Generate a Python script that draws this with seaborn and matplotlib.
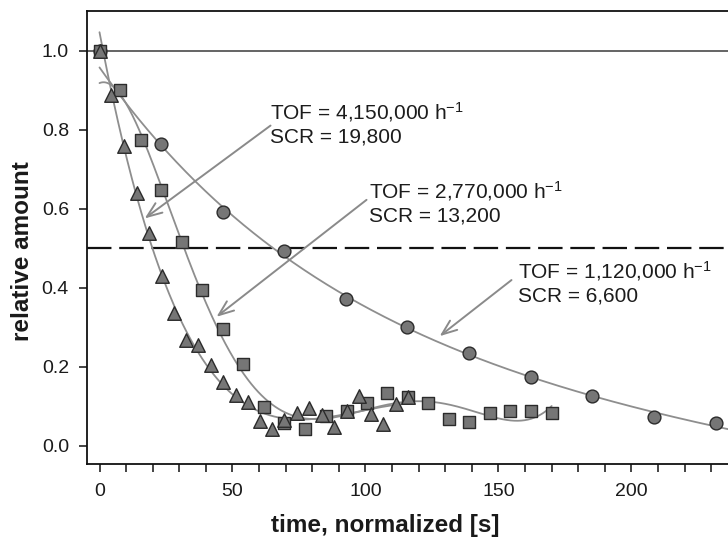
import numpy as np
import pandas as pd
import seaborn as sns
import matplotlib.pyplot as plt

# ---- data ----
tri_t = [0, 4.4, 9.3, 14.2, 18.5, 23.4, 28.0, 32.5, 37.1, 41.8, 46.4, 51.2, 55.7, 60.3, 65.0,
         69.5, 74.2, 78.8, 83.5, 88.0, 92.9, 97.4, 102.0, 106.7, 111.3, 115.9]
tri_y = [1.0, 0.889, 0.760, 0.640, 0.538, 0.430, 0.336, 0.268, 0.256, 0.206, 0.161, 0.129, 0.112,
         0.063, 0.043, 0.066, 0.083, 0.095, 0.078, 0.049, 0.089, 0.127, 0.080, 0.055, 0.106, 0.125]

sq_t = [0, 7.7, 15.6, 23.2, 31.0, 38.6, 46.3, 54.1, 61.7, 69.4, 77.3, 85.1, 92.9, 100.6, 108.2,
        115.9, 123.6, 131.4, 139.0, 146.8, 154.4, 162.2, 170.0]
sq_y = [1.0, 0.900, 0.775, 0.648, 0.517, 0.394, 0.295, 0.207, 0.099, 0.057, 0.043, 0.077, 0.089,
        0.108, 0.135, 0.125, 0.108, 0.068, 0.060, 0.083, 0.089, 0.089, 0.083]

circ_t = [0, 23.2, 46.3, 69.4, 92.6, 115.7, 139.0, 162.1, 185.3, 208.5, 231.7]
circ_y = [1.0, 0.765, 0.592, 0.494, 0.372, 0.301, 0.236, 0.174, 0.127, 0.074, 0.057]

labels = ["TOF = 4,150,000 h$^{-1}$\nSCR = 19,800",
          "TOF = 2,770,000 h$^{-1}$\nSCR = 13,200",
          "TOF = 1,120,000 h$^{-1}$\nSCR = 6,600"]

x_ticks = [0, 50, 100, 150, 200]
y_ticks = [0.0, 0.2, 0.4, 0.6, 0.8, 1.0]

# ---- style ----
sns.set_theme(style="ticks")
plt.rcParams['font.family'] = ['Liberation Sans', 'DejaVu Sans']
plt.rcParams['mathtext.fontset'] = 'custom'
plt.rcParams['mathtext.rm'] = 'Liberation Sans'
plt.rcParams['mathtext.it'] = 'Liberation Sans'

fig = plt.figure(figsize=(7.28, 5.38), dpi=100)
ax = fig.add_axes([87 / 728, 74 / 538, 1 - 87 / 728, 453 / 538])


def fit_curve(t, y, poly_deg, t_end):
    """Least-squares fit: exponential decay + low-order polynomial (tau by grid search)."""
    t = np.asarray(t, float)
    y = np.asarray(y, float)
    m = t > 0
    t, y = t[m], y[m]
    scale = t.max()

    def basis(tt, tau):
        cols = [np.exp(-tt / tau)] + [(tt / scale) ** k for k in range(poly_deg + 1)]
        return np.column_stack(cols)

    best = None
    for tau in np.linspace(8, 120, 225):
        A = basis(t, tau)
        coef, *_ = np.linalg.lstsq(A, y, rcond=None)
        err = np.sum((A @ coef - y) ** 2)
        if best is None or err < best[0]:
            best = (err, tau, coef)
    _, tau, coef = best
    tt = np.linspace(0, t_end, 400)
    return pd.DataFrame({"t": tt, "y": basis(tt, tau) @ coef})


curve_col = "#8e8e8e"
ax.axhline(1.0, color="#3a3a3a", lw=1.1, zorder=1)
ax.axhline(0.5, color="#111111", lw=1.6, dashes=(11, 3.5), zorder=1)

tri_fit = fit_curve(tri_t, tri_y, 3, max(tri_t))
sq_fit = fit_curve(sq_t, sq_y, 4, max(sq_t))
circ_fit = fit_curve(circ_t, circ_y, 1, 240)
for df in (tri_fit, sq_fit, circ_fit):
    sns.lineplot(data=df, x="t", y="y", ax=ax, color=curve_col, lw=1.3, zorder=2)

fill = "#767676"
edge = "#2b2b2b"
sns.scatterplot(x=circ_t, y=circ_y, ax=ax, marker="o", s=85, color=fill,
                edgecolor=edge, linewidth=1.0, zorder=3)
sns.scatterplot(x=sq_t, y=sq_y, ax=ax, marker="s", s=72, color=fill,
                edgecolor=edge, linewidth=1.0, zorder=4)
sns.scatterplot(x=tri_t, y=tri_y, ax=ax, marker="^", s=95, color=fill,
                edgecolor=edge, linewidth=1.0, zorder=5)

# annotations
arrow_kw = dict(arrowstyle="->, head_length=0.9, head_width=0.35", color="#8a8a8a",
                lw=1.4, shrinkA=0, shrinkB=0)
text_pos = [(64.0, 0.816), (101.4, 0.616), (157.4, 0.414)]
arrow_start = [(64.3, 0.811), (100.4, 0.623), (154.9, 0.420)]
arrow_end = [(17.0, 0.576), (44.0, 0.327), (127.9, 0.278)]
for lab, tp, a0, a1 in zip(labels, text_pos, arrow_start, arrow_end):
    ax.annotate("", xy=a1, xytext=a0, arrowprops=arrow_kw, zorder=6)
    ax.text(tp[0], tp[1], lab, fontsize=15, ha="left", va="center",
            linespacing=1.25, color="#1c1c1c", zorder=7)

ax.set_xlim(-4.7, 236.3)
ax.set_ylim(-0.0456, 1.101)
ax.set_xticks(x_ticks)
ax.set_xticks(np.arange(0, 240, 10), minor=True)
ax.set_yticks(y_ticks)
ax.set_yticklabels([f"{v:.1f}" for v in y_ticks])
ax.tick_params(axis="both", which="both", direction="out", length=6, width=1.1,
               color="#111111", labelsize=14, labelcolor="#1a1a1a")
ax.tick_params(axis="x", pad=8)
ax.tick_params(axis="y", pad=7)

for s in ["left", "bottom", "top"]:
    ax.spines[s].set_color("#111111")
    ax.spines[s].set_linewidth(1.3)
ax.spines["right"].set_visible(False)

ax.set_xlabel("time, normalized [s]", fontsize=17.5, fontweight="bold", color="#1a1a1a")
ax.set_ylabel("relative amount", fontsize=17.5, fontweight="bold", color="#1a1a1a")
ax.xaxis.set_label_coords(0.465, -0.11)
ax.yaxis.set_label_coords(-0.083, 0.47)

fig.savefig("out.png", dpi=100)
